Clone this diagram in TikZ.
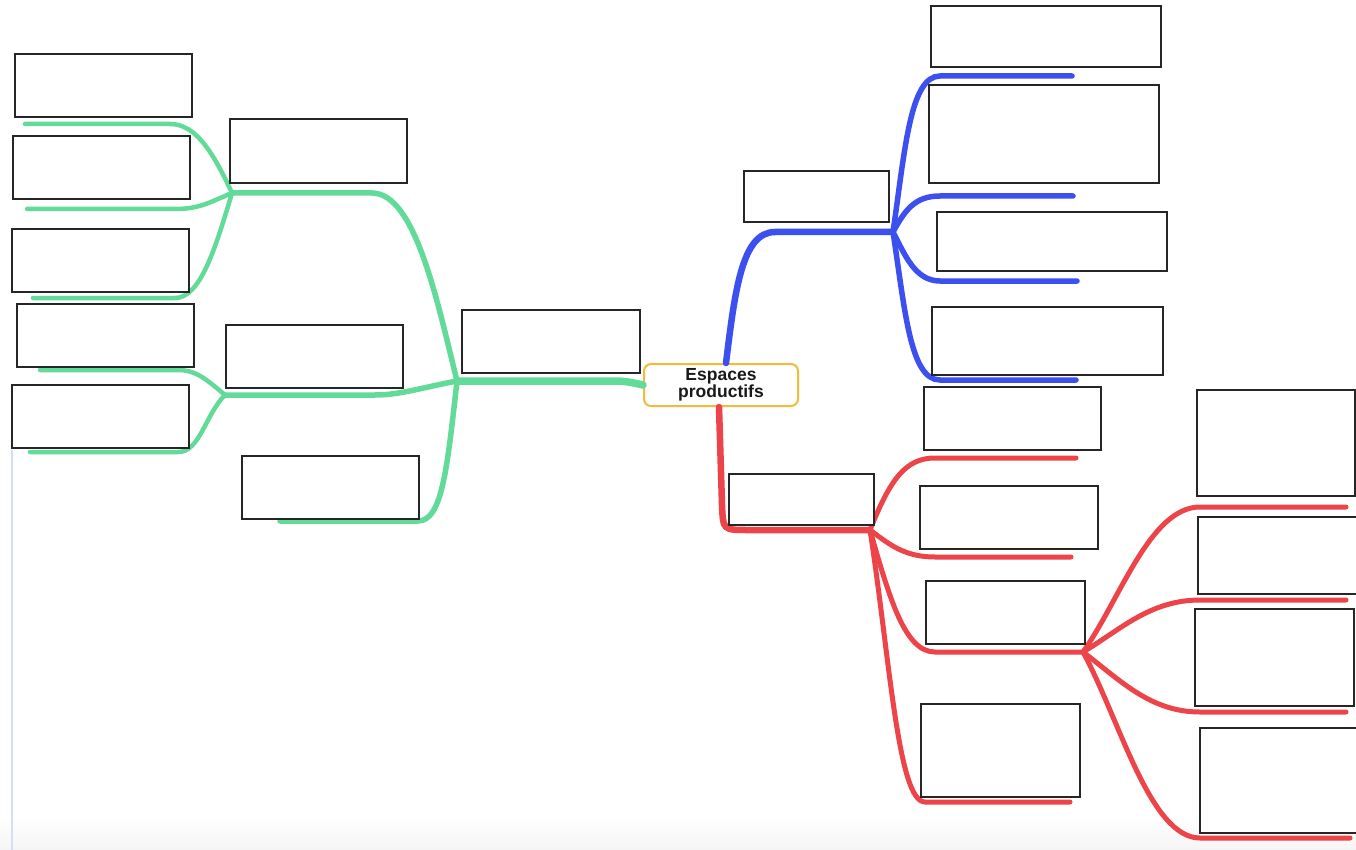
\documentclass[tikz,border=0pt]{standalone}
\usepackage{fontspec}
\setmainfont{Liberation Sans}
\usetikzlibrary{fit}
\definecolor{gcol}{RGB}{99,219,152}
\definecolor{bcol}{RGB}{60,80,240}
\definecolor{rcol}{RGB}{236,68,72}
\definecolor{ocol}{RGB}{245,185,60}
\definecolor{edgeblue}{RGB}{208,224,246}
\begin{document}
\begin{tikzpicture}[x=1pt,y=-1pt,
  box/.style={draw=black!85,line width=1.3pt,fill=white,inner sep=0pt},
  centre/.style={draw=ocol,line width=2pt,rounded corners=7pt,fill=white,
    minimum width=154pt,minimum height=42pt,inner sep=0pt,align=center,
    font=\fontsize{17.5}{16}\selectfont\bfseries,text=black!90},
  gtrunk/.style={draw=gcol,line width=7.5pt,line cap=round},
  gbranch/.style={draw=gcol,line width=5.5pt,line cap=round},
  gleaf/.style={draw=gcol,line width=4.5pt,line cap=round},
  btrunk/.style={draw=bcol,line width=6.5pt,line cap=round},
  bleaf/.style={draw=bcol,line width=5.5pt,line cap=round},
  rtrunk/.style={draw=rcol,line width=6.5pt,line cap=round},
  rleaf/.style={draw=rcol,line width=5pt,line cap=round}]
\useasboundingbox (0,0) rectangle (1356,850);
\clip (0,0) rectangle (1356,850);
\fill[white] (0,0) rectangle (1356,850);
\shade[top color=white,bottom color=gray!8] (0,815) rectangle (1356,850);
\draw[edgeblue,line width=1.5pt] (12,450) -- (12,850);

% hubs and ends
\coordinate (h1) at (457,381);
\coordinate (h2) at (232,193);
\coordinate (h3) at (225,395);
\coordinate (g3e) at (280,521);
\coordinate (gl1) at (25,124);
\coordinate (gl2) at (27,209);
\coordinate (gl3) at (33,298);
\coordinate (gl4) at (40,370);
\coordinate (gl5) at (30,452);
\coordinate (hb) at (893,232);
\coordinate (bl1) at (1072,76);
\coordinate (bl2) at (1073,196);
\coordinate (bl3) at (1077,281);
\coordinate (bl4) at (1076,380);
\coordinate (hr) at (870,530);
\coordinate (hr2) at (1083,652);
\coordinate (rl1) at (1076,458);
\coordinate (rl2) at (1071,557);
\coordinate (rl4) at (1070,802);
\coordinate (rm1) at (1346,507);
\coordinate (rm2) at (1346,600);
\coordinate (rm3) at (1346,712);
\coordinate (rm4) at (1350,838);

\node[centre] (cn) at (721,385) {Espaces\\productifs};

% green
\draw[gbranch] (h1) .. controls (437,300) and (415,193) .. (372,193) -- (h2);
\draw[gbranch] (h1) .. controls (420,388) and (400,395) .. (375,395) -- (h3);
\draw[gbranch] (h1) .. controls (447,470) and (442,521) .. (418,521) -- (g3e);
\draw[gleaf] (h2) .. controls (212,150) and (195,124) .. (170,124) -- (gl1);
\draw[gleaf] (h2) .. controls (210,202) and (200,209) .. (175,209) -- (gl2);
\draw[gleaf] (h2) .. controls (215,250) and (200,298) .. (175,298) -- (gl3);
\draw[gleaf] (h3) .. controls (205,378) and (195,370) .. (178,370) -- (gl4);
\draw[gleaf] (h3) .. controls (205,415) and (200,452) .. (178,452) -- (gl5);
\draw[gtrunk] (cn.west) .. controls (625,381) .. (600,381) -- (h1);

% blue
\draw[btrunk] ([xshift=5pt]cn.north) .. controls (735,290) and (742,232) .. (775,232) -- (hb);
\draw[bleaf] (hb) .. controls (905,150) and (910,76) .. (940,76) -- (bl1);
\draw[bleaf] (hb) .. controls (905,210) and (915,196) .. (940,196) -- (bl2);
\draw[bleaf] (hb) .. controls (905,255) and (915,281) .. (940,281) -- (bl3);
\draw[bleaf] (hb) .. controls (905,310) and (910,380) .. (940,380) -- (bl4);

% red
\draw[rtrunk] ([xshift=-2pt]cn.south) -- (722,505) .. controls (723,530) .. (748,530) -- (hr);
\draw[rleaf] (hr) .. controls (890,480) and (905,458) .. (935,458) -- (rl1);
\draw[rleaf] (hr) .. controls (890,545) and (905,557) .. (935,557) -- (rl2);
\draw[rleaf] (hr) .. controls (890,600) and (905,652) .. (935,652) -- (hr2);
\draw[rleaf] (hr) .. controls (890,660) and (898,802) .. (925,802) -- (rl4);
\draw[rleaf] (hr2) .. controls (1120,600) and (1150,507) .. (1200,507) -- (rm1);
\draw[rleaf] (hr2) .. controls (1120,630) and (1150,600) .. (1200,600) -- (rm2);
\draw[rleaf] (hr2) .. controls (1120,680) and (1150,712) .. (1200,712) -- (rm3);
\draw[rleaf] (hr2) .. controls (1120,720) and (1150,838) .. (1200,838) -- (rm4);

% boxes
\node[box,fit={(462,310) (640,373)}] (g1) {};
\node[box,fit={(230,119) (407,183)}] (g2) {};
\node[box,fit={(226,325) (403,388)}] (g3) {};
\node[box,fit={(242,456) (419,519)}] (g4) {};
\node[box,fit={(15,54) (192,117)}] (g5) {};
\node[box,fit={(13,136) (190,199)}] (g6) {};
\node[box,fit={(12,229) (189,292)}] (g7) {};
\node[box,fit={(17,304) (194,367)}] (g8) {};
\node[box,fit={(12,385) (189,448)}] (g9) {};
\node[box,fit={(744,171) (889,222)}] (b1) {};
\node[box,fit={(931,6) (1161,67)}] (b2) {};
\node[box,fit={(929,85) (1159,183)}] (b3) {};
\node[box,fit={(937,212) (1167,271)}] (b4) {};
\node[box,fit={(932,307) (1163,375)}] (b5) {};
\node[box,fit={(729,474) (874,525)}] (r1) {};
\node[box,fit={(924,387) (1101,450)}] (r2) {};
\node[box,fit={(920,486) (1098,549)}] (r3) {};
\node[box,fit={(926,581) (1085,644)}] (r4) {};
\node[box,fit={(921,704) (1080,797)}] (r5) {};
\node[box,fit={(1197,390) (1355,496)}] (r6) {};
\node[box,fit={(1198,517) (1372,594)}] (r7) {};
\node[box,fit={(1195,609) (1354,706)}] (r8) {};
\node[box,fit={(1200,728) (1372,833)}] (r9) {};
\end{tikzpicture}
\end{document}
